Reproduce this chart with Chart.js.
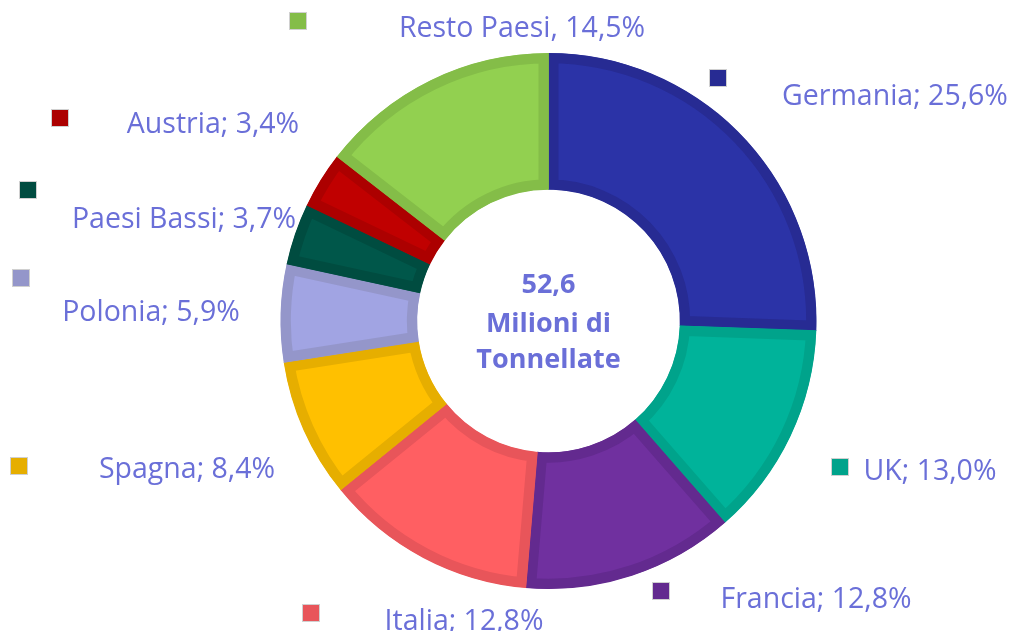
<!DOCTYPE html>
<html>
<head>
<meta charset="utf-8">
<script src="https://cdn.jsdelivr.net/npm/chart.js@4.4.1/dist/chart.umd.min.js"></script>
<style>
    html, body { margin: 0; padding: 0; background: #ffffff; }
    #wrap { width: 1015px; height: 631px; position: relative; }
</style>
</head>
<body>
<div id="wrap"><canvas id="quote"></canvas></div>
<script>
(function() {
    // data
    var countries = ['Germania', 'UK', 'Francia', 'Italia', 'Spagna', 'Polonia', 'Paesi Bassi', 'Austria', 'Resto Paesi'];
    var shares = [25.6, 13.0, 12.8, 12.8, 8.4, 5.9, 3.7, 3.4, 14.5];
    var separators = [';', ';', ';', ';', ';', ';', ';', ';', ','];
    var centerLines = ['52,6', 'Milioni di', 'Tonnellate'];

    // styles
    var fillColors = ['#2b33a7', '#00b39a', '#70309f', '#ff5f62', '#ffc000', '#a1a4e3', '#00574a', '#c00000', '#92d050'];
    var edgeColors = ['#272b93', '#00a38b', '#632a8f', '#e8555a', '#e6ae00', '#9496ca', '#004c40', '#ac0000', '#84bd48'];
    var textColor = '#6a6fd8';

    // label layout (text centre x, baseline y, marker top-left)
    var labelCenterX = [895, 930, 816, 464, 187, 151, 184, 213, 522];
    var labelBaseY = [105, 480, 608, 630, 478, 321, 228, 133, 37];
    var markerX = [709, 831, 652, 302, 10, 12, 19, 51, 289];
    var markerY = [69, 458, 582, 604, 457, 269, 181, 109, 12];

    function fmt(v) {
        return v.toFixed(1).replace('.', ',');
    }

    var labelPlugin = {
        id: 'outerLabels',
        afterDraw: function(chart) {
            var ctx = chart.ctx;
            ctx.save();
            ctx.font = '28.5px "Open Sans"';
            ctx.textAlign = 'center';
            ctx.textBaseline = 'alphabetic';
            countries.forEach(function(name, i) {
                var text = name + separators[i] + ' ' + fmt(shares[i]) + '%';
                ctx.fillStyle = textColor;
                ctx.fillText(text, labelCenterX[i], labelBaseY[i]);
                ctx.fillStyle = edgeColors[i];
                ctx.fillRect(markerX[i], markerY[i], 18, 18);
                ctx.strokeStyle = '#d0d0d0';
                ctx.lineWidth = 1;
                ctx.strokeRect(markerX[i] + 0.5, markerY[i] + 0.5, 17, 17);
            });

            var arc = chart.getDatasetMeta(0).data[0];
            ctx.font = 'bold 27px "Open Sans"';
            ctx.fillStyle = textColor;
            var baseY = [293, 332, 368];
            centerLines.forEach(function(line, i) {
                ctx.fillText(line, arc.x, baseY[i]);
            });
            ctx.restore();
        }
    };

    var ctx = document.getElementById('quote').getContext('2d');
    new Chart(ctx, {
        type: 'doughnut',
        data: {
            labels: countries,
            datasets: [{
                data: shares,
                backgroundColor: fillColors,
                borderColor: edgeColors,
                borderWidth: 10,
                borderAlign: 'inner'
            }]
        },
        options: {
            responsive: true,
            maintainAspectRatio: false,
            animation: false,
            cutout: '49%',
            layout: { padding: { top: 53, bottom: 42, left: 82, right: 0 } },
            plugins: {
                legend: { display: false },
                tooltip: { enabled: false }
            }
        },
        plugins: [labelPlugin]
    });
})();
</script>
</body>
</html>
